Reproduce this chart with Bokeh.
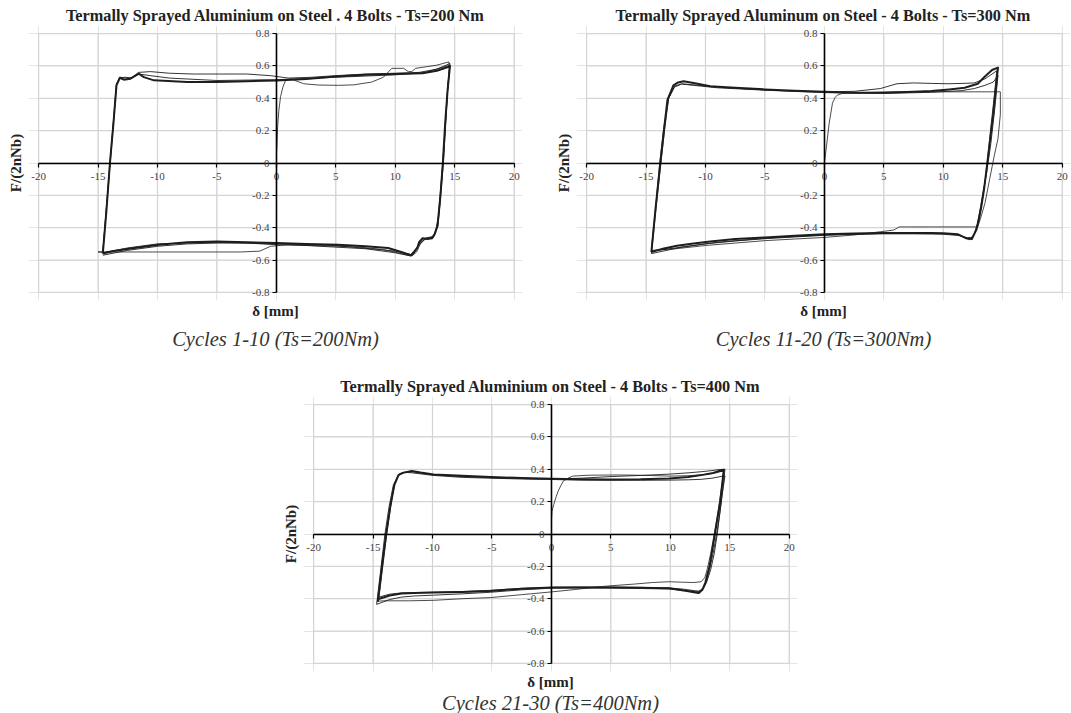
from bokeh.plotting import figure
from bokeh.models import (Range1d, LinearAxis, FixedTicker, Title,
                          CustomJSTickFormatter, Spacer)
from bokeh.layouts import column, row
from bokeh.embed import file_html
from bokeh.resources import INLINE

# ---------------- data ----------------
x_ticks = [-20, -15, -10, -5, 0, 5, 10, 15, 20]
y_ticks = [-0.8, -0.6, -0.4, -0.2, 0, 0.2, 0.4, 0.6, 0.8]

titles = ["Termally Sprayed Aluminium on Steel . 4 Bolts - Ts=200 Nm",
          "Termally Sprayed Aluminum on Steel - 4 Bolts - Ts=300 Nm",
          "Termally Sprayed Aluminium on Steel - 4 Bolts - Ts=400 Nm"]
captions = ["Cycles 1-10 (Ts=200Nm)", "Cycles 11-20 (Ts=300Nm)", "Cycles 21-30 (Ts=400Nm)"]
x_label = "δ [mm]"
y_label = "F/(2nNb)"

# Ts = 200 Nm
c1_main_x = [-14.6, -14.3, -14.0, -13.7, -13.45, -13.17, -12.83, -12.27, -11.57, -11.15, -10.3, -7.5, -5.0, -2.5, 0.0, 2.5, 5.0, 7.5, 10.0, 12.3, 13.5, 14.5, 14.6, 14.4, 14.2, 14.0, 13.8, 13.55, 13.3, 13.1, 12.7, 12.3, 12.0, 11.85, 11.5, 11.3, 10.5, 9.4, 7.5, 5.2, 2.5, 0.0, -2.5, -5.0, -7.5, -9.9, -12.4, -13.8, -14.6]
c1_main_y = [-0.56, -0.3, 0.0, 0.25, 0.48, 0.527, 0.515, 0.521, 0.552, 0.531, 0.511, 0.50, 0.50, 0.505, 0.51, 0.52, 0.535, 0.545, 0.55, 0.555, 0.57, 0.595, 0.60, 0.45, 0.25, 0.0, -0.2, -0.39, -0.44, -0.465, -0.47, -0.465, -0.49, -0.525, -0.56, -0.57, -0.55, -0.525, -0.515, -0.505, -0.50, -0.495, -0.49, -0.485, -0.49, -0.505, -0.53, -0.545, -0.56]
c1_first_x = [0.0, 0.05, 0.1, 0.2, 0.35, 0.55, 0.77, 1.2, 2.3, 3.5, 5.2, 6.5, 8.0, 9.0, 9.7, 10.7, 11.1, 11.4, 11.7, 12.6, 13.5, 14.5, 14.55, 14.3, 14.0, 13.7, 13.4, 13.1, 12.8, 12.5, 12.1, 11.8, 11.4, 10.5, 9.0, 7.0, 5.2, 3.0, 1.0, -0.5, -1.4, -3.0, -5.0, -7.5, -9.9, -12.5, -15.0]
c1_first_y = [0.04, 0.12, 0.22, 0.32, 0.41, 0.47, 0.51, 0.52, 0.49, 0.482, 0.48, 0.483, 0.50, 0.53, 0.585, 0.585, 0.565, 0.565, 0.585, 0.595, 0.605, 0.625, 0.60, 0.35, 0.0, -0.3, -0.43, -0.455, -0.46, -0.465, -0.50, -0.55, -0.575, -0.56, -0.535, -0.52, -0.515, -0.51, -0.505, -0.515, -0.545, -0.55, -0.55, -0.55, -0.55, -0.55, -0.55]
c1_var_x = [-15.0, -14.6, -14.0, -13.45, -13.15, -12.7, -12.2, -11.6, -10.6, -9.0, -7.0, -5.0, -2.5, -0.5, 1.0, 3.0, 5.0, 7.5, 10.0, 12.0, 13.5, 14.6, 14.4, 14.0, 13.6, 13.3, 13.0, 12.5, 12.0, 11.7, 11.3, 10.0, 7.5, 5.0, 2.5, 0.0, -2.5, -5.0, -7.5, -10.0, -12.5, -14.6]
c1_var_y = [-0.55, -0.55, -0.02, 0.48, 0.525, 0.53, 0.525, 0.56, 0.565, 0.555, 0.55, 0.55, 0.55, 0.54, 0.525, 0.53, 0.54, 0.55, 0.555, 0.56, 0.58, 0.615, 0.45, 0.0, -0.35, -0.45, -0.46, -0.47, -0.50, -0.54, -0.575, -0.555, -0.53, -0.52, -0.51, -0.505, -0.495, -0.495, -0.50, -0.515, -0.54, -0.57]
c1_var2_x = [-14.6, -14.0, -13.45, -13.15, -12.7, -12.2, -11.6, -10.6, -9.0, -5.0, 0.0, 5.0, 10.0, 12.5, 14.6, 14.4, 14.05, 13.6, 13.2, 12.6, 12.1, 11.3, 10.0, 5.0, 0.0, -5.0, -10.0, -12.5, -14.6]
c1_var2_y = [-0.555, 0.0, 0.49, 0.53, 0.525, 0.525, 0.55, 0.54, 0.525, 0.51, 0.515, 0.53, 0.545, 0.56, 0.605, 0.45, 0.0, -0.38, -0.46, -0.465, -0.50, -0.565, -0.545, -0.51, -0.50, -0.49, -0.50, -0.525, -0.555]

# Ts = 300 Nm
c2_main_x = [-14.55, -14.2, -13.8, -13.5, -13.2, -12.7, -12.3, -11.85, -11.0, -9.6, -7.5, -5.0, -2.5, 0.0, 2.5, 5.0, 7.5, 9.0, 10.5, 11.8, 12.9, 13.5, 14.1, 14.6, 14.4, 14.2, 13.95, 13.7, 13.45, 13.2, 12.8, 12.4, 11.9, 11.2, 10.0, 9.0, 7.0, 4.7, 2.5, 0.0, -2.5, -5.0, -7.5, -9.6, -11.0, -12.4, -13.5, -14.55]
c2_main_y = [-0.55, -0.28, 0.0, 0.2, 0.39, 0.48, 0.498, 0.505, 0.495, 0.475, 0.465, 0.455, 0.447, 0.44, 0.435, 0.435, 0.44, 0.445, 0.455, 0.465, 0.49, 0.535, 0.575, 0.59, 0.45, 0.3, 0.15, 0.0, -0.15, -0.27, -0.41, -0.47, -0.465, -0.44, -0.435, -0.433, -0.432, -0.432, -0.436, -0.44, -0.45, -0.46, -0.47, -0.485, -0.497, -0.512, -0.528, -0.55]
c2_first_x = [0.0, 0.17, 0.4, 0.68, 0.9, 1.1, 1.5, 3.0, 6.0, 9.0, 12.0, 14.0, 14.8, 14.8, 14.6, 14.3, 13.9, 13.5, 13.1, 12.9, 11.0, 9.0, 7.0, 6.3, 5.8, 4.7, 2.5, 0.0, -2.5, -5.0, -7.5, -10.0, -12.5, -14.5]
c2_first_y = [0.0, 0.1, 0.245, 0.37, 0.405, 0.42, 0.43, 0.435, 0.44, 0.44, 0.44, 0.44, 0.44, 0.3, 0.15, 0.05, -0.1, -0.25, -0.35, -0.395, -0.395, -0.395, -0.395, -0.395, -0.415, -0.425, -0.445, -0.46, -0.47, -0.48, -0.495, -0.51, -0.53, -0.54]
c2_var_x = [-14.55, -14.2, -13.85, -13.5, -13.1, -12.6, -12.0, -11.0, -9.0, -7.0, -5.0, -2.5, 0.0, 2.5, 4.7, 6.1, 7.5, 9.0, 10.4, 12.0, 12.6, 13.5, 14.1, 14.5, 14.3, 14.0, 13.7, 13.4, 13.0, 12.6, 12.2, 11.5, 10.0, 7.5, 5.0, 2.5, 0.0, -2.5, -5.0, -7.5, -10.0, -12.5, -14.55]
c2_var_y = [-0.53, -0.28, 0.0, 0.22, 0.4, 0.475, 0.49, 0.483, 0.47, 0.46, 0.452, 0.445, 0.44, 0.443, 0.46, 0.49, 0.495, 0.492, 0.49, 0.493, 0.495, 0.52, 0.55, 0.57, 0.42, 0.22, 0.0, -0.18, -0.36, -0.44, -0.475, -0.45, -0.44, -0.438, -0.438, -0.441, -0.447, -0.457, -0.468, -0.482, -0.50, -0.525, -0.545]
c2_var2_x = [-14.55, -14.15, -13.75, -13.4, -13.1, -12.6, -12.0, -11.0, -9.0, -5.0, 0.0, 5.0, 9.0, 11.5, 12.6, 13.5, 14.2, 14.6, 14.35, 14.0, 13.65, 13.3, 12.9, 12.5, 12.0, 11.0, 9.0, 5.0, 0.0, -5.0, -9.0, -12.0, -14.55]
c2_var2_y = [-0.56, -0.27, 0.0, 0.23, 0.4, 0.47, 0.488, 0.48, 0.465, 0.45, 0.435, 0.43, 0.437, 0.447, 0.46, 0.48, 0.5, 0.54, 0.35, 0.12, -0.06, -0.2, -0.37, -0.46, -0.462, -0.44, -0.435, -0.435, -0.445, -0.465, -0.49, -0.52, -0.56]

# Ts = 400 Nm
c3_main_x = [-14.6, -14.25, -13.9, -13.55, -13.2, -12.85, -12.5, -11.75, -11.0, -9.9, -7.5, -5.1, -2.5, 0.0, 2.5, 5.0, 7.5, 9.9, 11.5, 12.6, 13.5, 14.1, 14.5, 14.2, 13.75, 13.3, 12.95, 12.7, 12.4, 12.0, 11.4, 9.9, 7.5, 5.0, 2.5, 0.0, -2.5, -5.1, -7.5, -9.9, -11.5, -12.6, -13.6, -14.6]
c3_main_y = [-0.42, -0.2, 0.0, 0.17, 0.306, 0.365, 0.378, 0.39, 0.38, 0.368, 0.36, 0.352, 0.346, 0.341, 0.338, 0.337, 0.338, 0.343, 0.352, 0.364, 0.375, 0.389, 0.397, 0.2, 0.0, -0.2, -0.3, -0.345, -0.365, -0.36, -0.352, -0.335, -0.332, -0.331, -0.331, -0.331, -0.338, -0.352, -0.358, -0.362, -0.364, -0.368, -0.38, -0.403]
c3_first_x = [0.0, 0.05, 0.2, 0.4, 0.57, 0.8, 1.0, 1.4, 1.8, 3.0, 3.9, 5.5, 6.9, 8.5, 9.9, 11.5, 12.9, 14.0, 14.5, 14.3, 14.0, 13.7, 13.4, 13.1, 12.9, 12.6, 12.0, 11.0, 9.9, 8.5, 6.9, 5.0, 3.9, 2.0, 0.0, -2.5, -5.1, -7.5, -9.9, -12.0, -14.1, -14.6]
c3_first_y = [0.08, 0.14, 0.183, 0.23, 0.265, 0.30, 0.327, 0.345, 0.358, 0.363, 0.364, 0.365, 0.364, 0.361, 0.358, 0.36, 0.368, 0.38, 0.393, 0.28, 0.13, 0.0, -0.12, -0.22, -0.27, -0.295, -0.30, -0.298, -0.295, -0.30, -0.31, -0.32, -0.327, -0.343, -0.358, -0.375, -0.393, -0.40, -0.41, -0.413, -0.413, -0.415]
c3_var_x = [-14.7, -14.35, -14.0, -13.65, -13.3, -12.9, -12.4, -11.7, -9.9, -7.5, -5.1, -2.5, 0.0, 2.5, 5.0, 7.5, 9.9, 11.5, 12.6, 13.5, 14.1, 14.6, 14.45, 14.2, 13.95, 13.7, 13.4, 13.05, 12.8, 12.5, 12.1, 11.0, 9.9, 7.5, 5.0, 2.5, 0.0, -2.5, -5.1, -7.5, -9.9, -11.5, -12.6, -13.6, -14.7]
c3_var_y = [-0.435, -0.22, 0.0, 0.17, 0.30, 0.36, 0.38, 0.385, 0.365, 0.355, 0.348, 0.343, 0.34, 0.345, 0.355, 0.362, 0.37, 0.378, 0.385, 0.392, 0.398, 0.40, 0.30, 0.15, 0.0, -0.12, -0.22, -0.30, -0.335, -0.352, -0.355, -0.348, -0.34, -0.337, -0.334, -0.333, -0.335, -0.345, -0.36, -0.37, -0.378, -0.383, -0.39, -0.405, -0.435]
c3_var2_x = [-14.5, -14.15, -13.85, -13.5, -13.2, -12.8, -12.4, -11.7, -9.9, -7.5, -5.1, -2.5, 0.0, 2.5, 5.0, 7.5, 9.9, 11.5, 12.6, 13.5, 14.6, 14.4, 14.15, 13.9, 13.6, 13.3, 13.0, 12.75, 12.4, 12.0, 11.0, 9.9, 7.5, 5.0, 2.5, 0.0, -2.5, -5.1, -7.5, -9.9, -11.5, -12.6, -13.6, -14.5]
c3_var2_y = [-0.39, -0.18, 0.0, 0.18, 0.31, 0.37, 0.382, 0.378, 0.362, 0.35, 0.345, 0.34, 0.337, 0.333, 0.332, 0.332, 0.333, 0.335, 0.338, 0.345, 0.36, 0.26, 0.12, 0.0, -0.12, -0.22, -0.30, -0.335, -0.355, -0.35, -0.34, -0.334, -0.33, -0.328, -0.328, -0.33, -0.336, -0.348, -0.356, -0.36, -0.362, -0.364, -0.372, -0.39]

series = [
    [(c1_main_x, c1_main_y), (c1_first_x, c1_first_y), (c1_var_x, c1_var_y), (c1_var2_x, c1_var2_y)],
    [(c2_main_x, c2_main_y), (c2_first_x, c2_first_y), (c2_var_x, c2_var_y), (c2_var2_x, c2_var2_y)],
    [(c3_main_x, c3_main_y), (c3_first_x, c3_first_y), (c3_var_x, c3_var_y), (c3_var2_x, c3_var2_y)],
]

SERIF = "Liberation Serif"
GRID = "#d4d4d4"
INK = "#1e1e1e"
TICK_COLOR = "#444444"
TICK_SIZE = "11px"

# plot ranges leave a small margin round the [-20,20]x[-0.8,0.8] box so that
# the end tick labels are not clipped by the frame
X_RANGE = (-20.85, 20.7)
Y_RANGE = (-0.85, 0.85)


def make_fig(i, width, height, bl, br, bt, bb, t_standoff, xl_standoff, cap_standoff, yl_standoff):
    p = figure(width=width, height=height, x_range=Range1d(*X_RANGE), y_range=Range1d(*Y_RANGE),
               output_backend="svg", toolbar_location=None,
               x_axis_location=None, y_axis_location=None,
               min_border_left=bl, min_border_right=br, min_border_top=bt, min_border_bottom=bb,
               outline_line_color=None,
               background_fill_color="white", border_fill_color="white")
    p.title.text = titles[i]
    p.title.align = "center"
    p.title.text_font = SERIF
    p.title.text_font_style = "bold"
    p.title.text_font_size = "16.3px"
    p.title.text_color = "#222222"
    p.title.standoff = t_standoff

    # grid (box) lines at every tick
    p.segment(x0=x_ticks, y0=[y_ticks[0]] * len(x_ticks), x1=x_ticks, y1=[y_ticks[-1]] * len(x_ticks),
              line_color=GRID, line_width=1.2)
    p.segment(x0=[x_ticks[0]] * len(y_ticks), y0=y_ticks, x1=[x_ticks[-1]] * len(y_ticks), y1=y_ticks,
              line_color=GRID, line_width=1.2)

    for k, (xs, ys) in enumerate(series[i]):
        lw = 2.0 if k == 0 else (0.8 if k == 1 else 0.9)
        p.line(xs, ys, line_color=INK, line_width=lw, line_join="round")

    for ticks, code, side, standoff in [
        (x_ticks, "return tick.toFixed(0);", "below", 6),
        (y_ticks, "return Math.abs(tick) < 1e-9 ? '0' : tick.toFixed(1);", "left", 3),
    ]:
        ax = LinearAxis()
        ax.fixed_location = 0
        ax.bounds = (ticks[0], ticks[-1])
        ax.ticker = FixedTicker(ticks=ticks)
        ax.formatter = CustomJSTickFormatter(code=code)
        ax.axis_line_color = "black"
        ax.axis_line_width = 1.6
        ax.major_tick_line_color = "black"
        ax.major_tick_line_width = 1.2
        ax.major_tick_out = 4
        ax.major_tick_in = 0
        ax.minor_tick_line_color = None
        ax.major_label_text_font = SERIF
        ax.major_label_text_font_size = TICK_SIZE
        ax.major_label_text_color = TICK_COLOR
        ax.major_label_standoff = standoff
        p.add_layout(ax, side)

    p.add_layout(Title(text=x_label, align="center", text_font=SERIF, text_font_style="bold",
                       text_font_size="15px", text_color="#222222", standoff=xl_standoff), "below")
    p.add_layout(Title(text=captions[i], align="center", text_font=SERIF, text_font_style="italic",
                       text_font_size="20.5px", text_color="#333333", standoff=cap_standoff), "below")
    p.add_layout(Title(text=y_label, align="center", text_font=SERIF, text_font_style="bold",
                       text_font_size="15px", text_color="#222222", standoff=yl_standoff), "left")
    return p


p1 = make_fig(0, 548, 358, 28, 26, 25, 58, 1, 0, 15, 10)
p2 = make_fig(1, 523, 358, 27, 1, 25, 58, 1, 0, 15, 10)
p3 = make_fig(2, 549, 355, 33, 22, 38, 42, 1, 0, 0, 10)

layout = column(row(p1, p2), row(Spacer(width=270, height=355), p3))

open("out.html", "w").write(file_html(layout, INLINE))
